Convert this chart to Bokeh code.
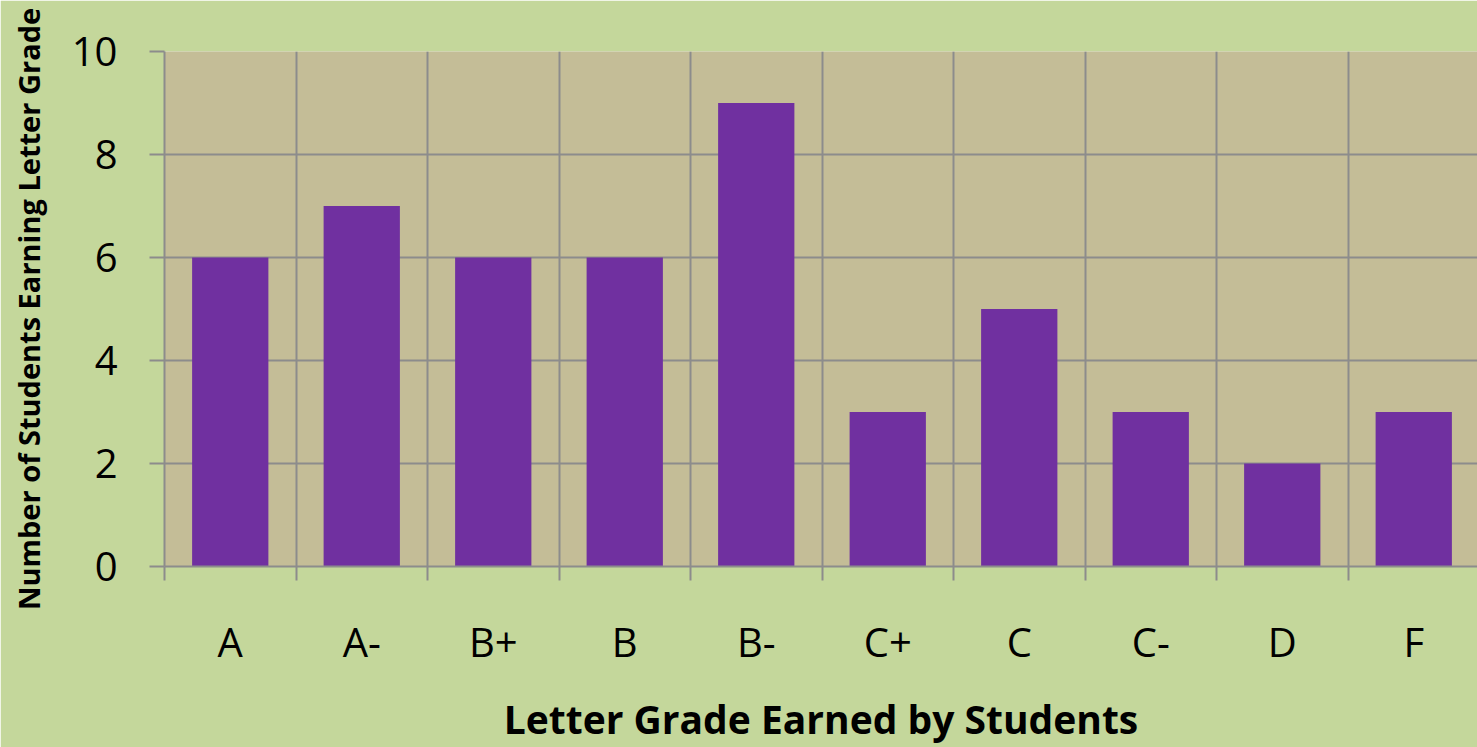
from bokeh.plotting import figure
from bokeh.models import FixedTicker
from bokeh.embed import file_html
from bokeh.resources import INLINE

grades = ["A", "A-", "B+", "B", "B-", "C+", "C", "C-", "D", "F"]
counts = [6, 7, 6, 6, 9, 3, 5, 3, 2, 3]
y_ticks = [0, 2, 4, 6, 8, 10]
x_title = "Letter Grade Earned by Students"
y_title = "Number of Students Earning Letter Grade"

GREEN = "#c4d79b"
TAN = "#c4bd97"
PURPLE = "#7030a0"
GRID = "#8c8c8c"

centers = [i + 0.5 for i in range(len(grades))]
bounds = list(range(len(grades) + 1))

W, H = 1477, 747
left, top, bottom = 164, 51, 178
cat_px = 131.5
x_end = (W - left) / cat_px

p = figure(width=W, height=H, x_range=(0, x_end), y_range=(0, 10),
           output_backend="svg", toolbar_location=None,
           min_border_left=left, min_border_right=0,
           min_border_top=top, min_border_bottom=bottom)
p.background_fill_color = TAN
p.border_fill_color = GREEN
p.outline_line_color = None

p.vbar(x=centers, top=counts, bottom=0, width=0.58,
       fill_color=PURPLE, line_color=None)

# x axis
xa = p.xaxis[0]
xa.ticker = FixedTicker(ticks=centers, minor_ticks=bounds)
xa.major_label_overrides = {c: g for c, g in zip(centers, grades)}
xa.major_tick_line_color = None
xa.major_tick_out = 0
xa.major_tick_in = 0
xa.minor_tick_line_color = GRID
xa.minor_tick_line_width = 2
xa.minor_tick_out = 14
xa.minor_tick_in = 0
xa.axis_line_color = GRID
xa.axis_line_width = 2
xa.major_label_standoff = 33
xa.major_label_text_font = "Open Sans"
xa.major_label_text_font_size = "40px"
xa.major_label_text_color = "black"
xa.axis_label = x_title
xa.axis_label_text_font = "Open Sans"
xa.axis_label_text_font_style = "bold"
xa.axis_label_text_font_size = "39px"
xa.axis_label_text_color = "black"
xa.axis_label_standoff = 20

# y axis
ya = p.yaxis[0]
ya.ticker = FixedTicker(ticks=y_ticks, minor_ticks=[])
ya.major_tick_line_color = GRID
ya.major_tick_line_width = 2
ya.major_tick_out = 15
ya.major_tick_in = 0
ya.minor_tick_line_color = None
ya.axis_line_color = GRID
ya.axis_line_width = 2
ya.major_label_standoff = 32
ya.major_label_text_font = "Open Sans"
ya.major_label_text_font_size = "40px"
ya.major_label_text_color = "black"
ya.axis_label = y_title
ya.axis_label_text_font = "Open Sans"
ya.axis_label_text_font_style = "bold"
ya.axis_label_text_font_size = "29px"
ya.axis_label_text_color = "black"
ya.axis_label_standoff = 21

# grids
p.xgrid.ticker = FixedTicker(ticks=bounds, minor_ticks=[])
p.xgrid.grid_line_color = GRID
p.xgrid.grid_line_width = 2
p.xgrid.grid_line_alpha = 1
p.ygrid.ticker = FixedTicker(ticks=y_ticks, minor_ticks=[])
p.ygrid.grid_line_color = GRID
p.ygrid.grid_line_width = 2
p.ygrid.grid_line_alpha = 1

open("out.html", "w").write(file_html(p, INLINE))
